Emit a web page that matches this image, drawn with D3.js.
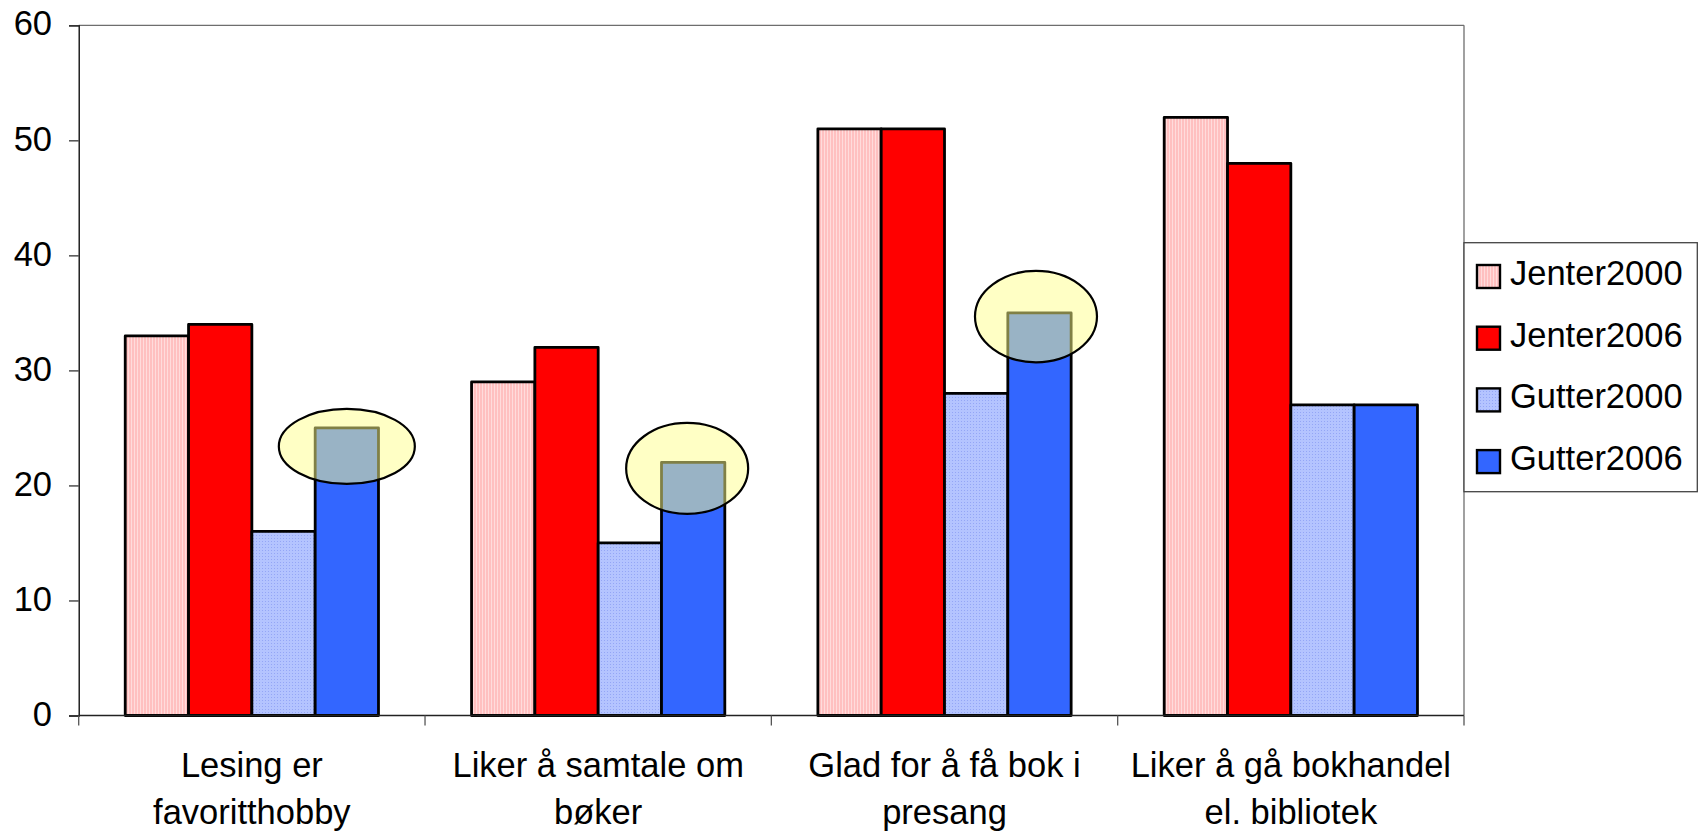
<!DOCTYPE html>
<html>
<head>
<meta charset="utf-8">
<script src="https://cdn.jsdelivr.net/npm/d3@7/dist/d3.min.js"></script>
<style>
  html, body { margin: 0; padding: 0; background: #fff; }
  svg { display: block; font-family: "Liberation Sans", Arial, sans-serif; }
</style>
</head>
<body>
<svg id="chart" width="1705" height="834"></svg>
<script>
// ---- data ----
const categories = [
  ["Lesing er", "favoritthobby"],
  ["Liker å samtale om", "bøker"],
  ["Glad for å få bok i", "presang"],
  ["Liker å gå bokhandel", "el. bibliotek"]
];
const seriesNames = ["Jenter2000", "Jenter2006", "Gutter2000", "Gutter2006"];
const jenter2000 = [33, 29, 51, 52];
const jenter2006 = [34, 32, 51, 48];
const gutter2000 = [16, 15, 28, 27];
const gutter2006 = [25, 22, 35, 27];
const yTicks = [0, 10, 20, 30, 40, 50, 60];
// highlighted bars: [category index, series index]
const highlights = [[0, 3], [1, 3], [2, 3]];

// ---- styling (not data) ----
const seriesFill = ["url(#pinkPat)", "#ff0000", "url(#bluePat)", "#3366ff"];
const ellipseStyle = [
  { dx: 0, dy: 18.5, rx: 68, ry: 37.5 },
  { dx: -6, dy: 6, rx: 61, ry: 45.5 },
  { dx: -3.5, dy: 3.7, rx: 61, ry: 45.7 }
];
const FS = 34.5;

(function () {
const values = [jenter2000, jenter2006, gutter2000, gutter2006];
const svg = d3.select("#chart");

// patterns
const defs = svg.append("defs");
const pp = defs.append("pattern").attr("id", "pinkPat").attr("patternUnits", "userSpaceOnUse")
  .attr("width", 3).attr("height", 3);
pp.append("rect").attr("width", 3).attr("height", 3).attr("fill", "#ffc0c0");
pp.append("rect").attr("x", 2).attr("width", 1).attr("height", 3).attr("fill", "#ffdcdc");
const bp = defs.append("pattern").attr("id", "bluePat").attr("patternUnits", "userSpaceOnUse")
  .attr("width", 3).attr("height", 3);
bp.append("rect").attr("width", 3).attr("height", 3).attr("fill", "#b4c4ff");
bp.append("rect").attr("x", 1).attr("y", 1).attr("width", 1).attr("height", 1).attr("fill", "#94a6f6");

const pLeft = 78.7, pRight = 1464, pTop = 25.3, pBottom = 715.5;
const catIdx = categories.map((d, i) => i);
const x0 = d3.scaleBand().domain(catIdx).range([pLeft, pRight]).paddingInner(0).paddingOuter(0);
const x1 = d3.scaleBand().domain(d3.range(seriesNames.length)).range([0, x0.bandwidth()])
  .paddingInner(0).paddingOuter(0.735);
const y = d3.scaleLinear().domain([0, 60]).range([pBottom, pTop]);

// plot border top/right
svg.append("line").attr("x1", pLeft).attr("x2", pRight).attr("y1", y(60)).attr("y2", y(60))
  .attr("stroke", "#6e6e6e").attr("stroke-width", 1.3);
svg.append("line").attr("x1", pRight).attr("x2", pRight).attr("y1", y(60)).attr("y2", pBottom)
  .attr("stroke", "#6e6e6e").attr("stroke-width", 1.3);

// bars
const g = svg.append("g");
catIdx.forEach(ci => {
  seriesNames.forEach((s, si) => {
    const v = values[si][ci];
    g.append("rect")
      .attr("x", x0(ci) + x1(si))
      .attr("y", y(v))
      .attr("width", x1.bandwidth())
      .attr("height", y(0) - y(v))
      .attr("fill", seriesFill[si])
      .attr("stroke", "#000")
      .attr("stroke-width", 2.8)
      .attr("stroke-linejoin", "round");
  });
});

// y axis
const yAxis = d3.axisLeft(y).tickValues(yTicks).tickSize(9.7).tickPadding(17).tickFormat(d3.format("d"));
const ya = svg.append("g").attr("transform", `translate(${pLeft},0)`).call(yAxis);
ya.select(".domain").attr("stroke", "#000").attr("stroke-width", 1.3);
ya.selectAll(".tick line").attr("stroke", "#333").attr("stroke-width", 1.3);
ya.selectAll(".tick text").attr("font-size", FS).attr("font-family", "Liberation Sans, Arial, sans-serif")
  .attr("fill", "#000").attr("dy", "0.28em");

// x axis baseline + boundary ticks
svg.append("line").attr("x1", pLeft).attr("x2", pRight).attr("y1", y(0)).attr("y2", y(0))
  .attr("stroke", "#222").attr("stroke-width", 1.5);
const bounds = catIdx.map(i => x0(i)).concat([x0(catIdx.length - 1) + x0.bandwidth()]);
svg.selectAll(".xtick").data(bounds).enter().append("line")
  .attr("x1", d => d).attr("x2", d => d).attr("y1", y(0)).attr("y2", y(0) + 10)
  .attr("stroke", "#555").attr("stroke-width", 1.3);

// category labels
catIdx.forEach(ci => {
  const t = svg.append("text").attr("text-anchor", "middle").attr("font-size", FS).attr("fill", "#000");
  categories[ci].forEach((line, li) => {
    t.append("tspan").attr("x", x0(ci) + x0.bandwidth() / 2).attr("y", 777 + li * 46.5).text(line);
  });
});

// highlight ellipses
highlights.forEach(([ci, si], k) => {
  const st = ellipseStyle[k];
  const v = values[si][ci];
  svg.append("ellipse")
    .attr("cx", x0(ci) + x1(si) + x1.bandwidth() / 2 + st.dx)
    .attr("cy", y(v) + st.dy)
    .attr("rx", st.rx).attr("ry", st.ry)
    .attr("fill", "rgb(255,255,140)").attr("fill-opacity", 0.5)
    .attr("stroke", "#000").attr("stroke-width", 2.2);
});

// legend
const lg = svg.append("g");
lg.append("rect").attr("x", 1464).attr("y", 242.7).attr("width", 233.3).attr("height", 249)
  .attr("fill", "#fff").attr("stroke", "#444").attr("stroke-width", 1.3);
seriesNames.forEach((s, si) => {
  lg.append("rect").attr("x", 1477).attr("y", 265 + si * 61.7).attr("width", 23).attr("height", 23)
    .attr("fill", seriesFill[si]).attr("stroke", "#000").attr("stroke-width", 2.4);
  lg.append("text").attr("x", 1510).attr("y", 285 + si * 61.7).attr("font-size", FS).attr("fill", "#000").text(s);
});
})();
</script>
</body>
</html>
